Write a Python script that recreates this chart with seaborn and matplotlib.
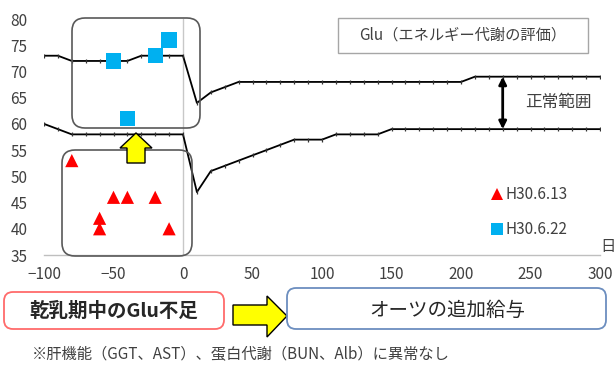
import numpy as np
import pandas as pd
import matplotlib
matplotlib.use("Agg")
import matplotlib.pyplot as plt
from matplotlib.patches import FancyBboxPatch, Polygon, Rectangle
import seaborn as sns

# Normal-range bounds of Glu, every 10 days from -100 to 300
days = list(range(-100, 301, 10))
upper = [73, 73, 72, 72, 72, 72, 72, 73, 73, 73, 73,
         64, 66, 67, 68, 68, 68, 68, 68, 68, 68,
         68, 68, 68, 68, 68, 68, 68, 68, 68, 68,
         69, 69, 69, 69, 69, 69, 69, 69, 69, 69]
lower = [60, 59, 58, 58, 58, 58, 58, 58, 58, 58, 58,
         47, 51, 52, 53, 54, 55, 56, 57, 57, 57,
         58, 58, 58, 58, 59, 59, 59, 59, 59, 59,
         59, 59, 59, 59, 59, 59, 59, 59, 59, 59]

# Herd samples (days relative to calving, Glu mg/dl)
s1_label = "H30.6.13"
s1_days = [-80, -60, -60, -50, -40, -20, -10]
s1_glu = [53, 42, 40, 46, 46, 46, 40]
s2_label = "H30.6.22"
s2_days = [-50, -40, -20, -10]
s2_glu = [72, 61, 73, 76]

x_ticks = [-100, -50, 0, 50, 100, 150, 200, 250, 300]
y_ticks = [35, 40, 45, 50, 55, 60, 65, 70, 75, 80]

title_text = "Glu（エネルギー代謝の評価）"
range_text = "正常範囲"
unit_text = "日"
problem_text = "乾乳期中のGlu不足"
action_text = "オーツの追加給与"
note_text = "※肝機能（GGT、AST）、蛋白代謝（BUN、Alb）に異常なし"

sns.set_theme(style="white")
plt.rcParams["font.family"] = ["Noto Sans CJK JP", "DejaVu Sans"]
plt.rcParams["axes.unicode_minus"] = True

W, H = 615, 365
fig = plt.figure(figsize=(W / 100, H / 100), dpi=100)
ax = fig.add_axes([44 / W, 1 - 255 / H, (600 - 44) / W, (255 - 19) / H])

bounds = pd.DataFrame({"day": days, "upper": upper, "lower": lower})
samples = pd.DataFrame({
    "day": s1_days + s2_days,
    "glu": s1_glu + s2_glu,
    "date": [s1_label] * len(s1_days) + [s2_label] * len(s2_days),
})

ax.axvline(0, color="#C8C8C8", lw=1, zorder=1)

for col in ["upper", "lower"]:
    sns.lineplot(data=bounds, x="day", y=col, ax=ax, color="black", lw=1.3,
                 marker="|", markersize=3, markeredgewidth=0.9,
                 markeredgecolor="#333333", legend=False, zorder=2)

sns.scatterplot(data=samples, x="day", y="glu", hue="date", style="date",
                size="date",
                palette={s1_label: "#FF0000", s2_label: "#00B0F0"},
                markers={s1_label: "^", s2_label: "s"},
                sizes={s1_label: 90, s2_label: 120},
                linewidth=0, ax=ax, zorder=3)

ax.set_xlim(-100, 300)
ax.set_ylim(35, 80)
ax.set_xticks(x_ticks)
ax.set_yticks(y_ticks)
ax.set_xlabel("")
ax.set_ylabel("")
for s in ["left", "right", "top"]:
    ax.spines[s].set_visible(False)
ax.spines["bottom"].set_color("#BFBFBF")
ax.spines["bottom"].set_linewidth(1)
ax.tick_params(axis="both", length=0, labelsize=11, labelcolor="#404040")
ax.tick_params(axis="y", pad=12)
ax.tick_params(axis="x", pad=8)

handles, labels = ax.get_legend_handles_labels()
for h in handles:
    if hasattr(h, "set_markersize"):
        h.set_markersize(8.5)
leg = ax.legend(handles, labels, loc="upper left",
                bbox_to_anchor=(486 / W, 1 - 180 / H),
                bbox_transform=fig.transFigure, frameon=False,
                handlelength=0.7, handletextpad=0.15, labelspacing=1.2,
                fontsize=11, borderaxespad=0)
for t in leg.get_texts():
    t.set_color("#404040")

# Normal range arrow and label
ax.annotate("", xy=(230, 69), xytext=(230, 59),
            arrowprops=dict(arrowstyle="<|-|>", color="black", lw=2,
                            mutation_scale=11, shrinkA=0, shrinkB=0))
ax.text(246, 64, range_text, ha="left", va="center", fontsize=12,
        color="#404040")
fig.text(608 / W, 1 - 247 / H, unit_text, ha="center", va="center",
         fontsize=11, color="#404040")


def rbox(x0, y0, x1, y1, r, ec, lw):
    p = FancyBboxPatch((x0 / W, 1 - y1 / H), (x1 - x0) / W, (y1 - y0) / H,
                       boxstyle=f"round,pad=0,rounding_size={r / W}",
                       mutation_aspect=W / H, transform=fig.transFigure,
                       fc="none", ec=ec, lw=lw, zorder=5)
    fig.add_artist(p)


def poly(points, **kw):
    pts = [(x / W, 1 - y / H) for x, y in points]
    fig.add_artist(Polygon(pts, closed=True, transform=fig.transFigure, **kw))


# Groups of samples
rbox(72, 18, 200, 128, 13, "#595959", 1.2)
rbox(62, 150, 192, 256, 13, "#595959", 1.2)

# Upward arrow between groups
poly([(127, 163), (145, 163), (145, 148), (152, 148), (136, 133),
      (120, 148), (127, 148)], fc="#FFFF00", ec="black", lw=1, zorder=6)

# Title box
fig.add_artist(Rectangle((338 / W, 1 - 53 / H), 250 / W, 35 / H,
                         transform=fig.transFigure, fc="white",
                         ec="#A6A6A6", lw=1))
fig.text(463 / W, 1 - 35.5 / H, title_text, ha="center", va="center",
         fontsize=11, color="#404040")

# Bottom captions
rbox(4, 292, 224, 329, 9, "#FF6B6B", 1.3)
fig.text(114 / W, 1 - 311 / H, problem_text, ha="center", va="center",
         fontsize=14, fontweight="bold", color="#262626")
poly([(233, 305), (267, 305), (267, 296), (287, 316), (267, 337),
      (267, 325), (233, 325)], fc="#FFFF00", ec="black", lw=1)
rbox(287, 288, 606, 329, 9, "#6C8EBF", 1.3)
fig.text(447 / W, 1 - 310 / H, action_text, ha="center", va="center",
         fontsize=14, color="#262626")
fig.text(32 / W, 1 - 354 / H, note_text, ha="left", va="center",
         fontsize=11, color="#404040")

fig.savefig("out.png", dpi=100)
